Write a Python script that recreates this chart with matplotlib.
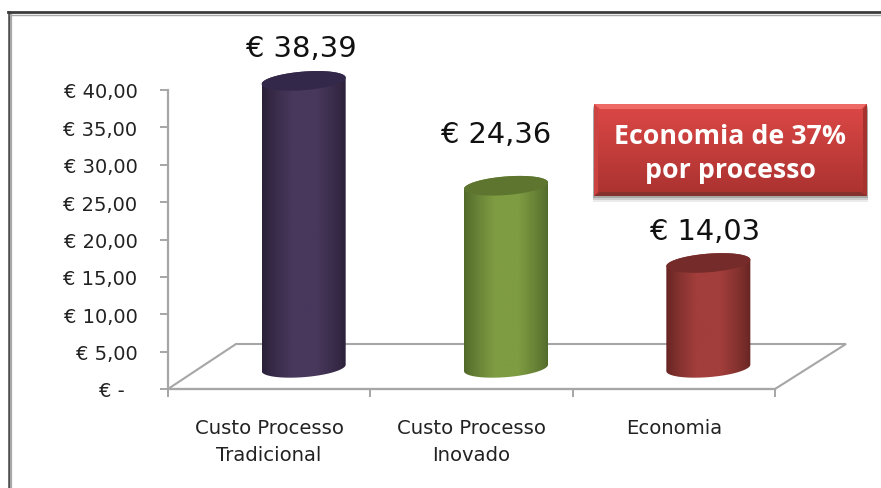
import numpy as np
import matplotlib
matplotlib.use('Agg')
import matplotlib.pyplot as plt
from matplotlib.patches import PathPatch, Polygon, Rectangle
from matplotlib.path import Path
from matplotlib.lines import Line2D

# Datos
categorias = ['Custo Processo\nTradicional', 'Custo Processo\nInovado', 'Economia']
valores = [38.39, 24.36, 14.03]
etiquetas_valor = ['€ 38,39', '€ 24,36', '€ 14,03']
ticks_y = [0, 5, 10, 15, 20, 25, 30, 35, 40]
etiquetas_y = ['€ -  ', '€ 5,00', '€ 10,00', '€ 15,00', '€ 20,00', '€ 25,00', '€ 30,00', '€ 35,00', '€ 40,00']

W, H = 881, 489
fig = plt.figure(figsize=(W / 100, H / 100), dpi=100)
plt.rcParams['font.family'] = ['DejaVu Sans']

# Ejes colocados en pixeles de la imagen
ax = fig.add_axes([168 / W, 1 - 390 / H, (775 - 168) / W, (390 - 91) / H])
ax.set_xlim(0, 3)
ax.set_ylim(0, 40)
ax.patch.set_visible(False)
for s in ['top', 'right']:
    ax.spines[s].set_visible(False)
for s in ['left', 'bottom']:
    ax.spines[s].set_color('#a6a6a6')
    ax.spines[s].set_linewidth(1.6)
ax.set_yticks(ticks_y)
ax.set_yticklabels(etiquetas_y, fontsize=14, color='#222222')
ax.set_xticks([0, 1, 2, 3])
ax.set_xticklabels([])
ax.tick_params(axis='y', length=6, width=1.4, color='#a6a6a6', pad=16)
ax.tick_params(axis='x', length=6, width=1.4, color='#a6a6a6')

for i, cat in enumerate(categorias):
    ax.annotate(cat, (i + 0.5, 0), xytext=(0, -21), textcoords='offset points', ha='center', va='top',
                fontsize=14.1, color='#222222', linespacing=1.52, annotation_clip=False)

# Suelo 3D
prof_x = 68 / 202.33
prof_x_der = 71 / 202.33
prof_y = 45 / 7.475
suelo = Polygon([(0, 0), (3, 0), (3 + prof_x_der, prof_y), (prof_x, prof_y)], closed=True,
                facecolor='white', edgecolor='#a6a6a6', linewidth=1.5, clip_on=False, zorder=1)
ax.add_patch(suelo)

# Cilindros
a = 42 / 202.33
b = 9.3 / 7.475
s = 3.2 / 7.475
dx = 34.5 / 202.33
base = prof_y * 0.47
colores = [('#2a2038', '#48385c', '#33284a'),
           ('#50682a', '#7e9c42', '#5e7530'),
           ('#662523', '#a23e3b', '#742b29')]
# desplazamiento de cada etiqueta respecto a la tapa, en puntos
despl_etiqueta = [(-2, 23.5), (-7, 37), (-2, 23)]
t = np.linspace(0, 2 * np.pi, 181)

for i, (v, lab, (borde, centro, tapa), off) in enumerate(zip(valores, etiquetas_valor, colores, despl_etiqueta)):
    cx = i + 0.5 + dx
    top = base + v
    # cuerpo: media elipse inferior y media elipse superior
    tt = np.linspace(np.pi, 2 * np.pi, 90)
    tt2 = np.linspace(0, np.pi, 90)
    x_inf = cx + a * np.cos(tt)
    y_inf = base + b * np.sin(tt) + s * np.cos(tt)
    x_sup = cx + a * np.cos(tt2)
    y_sup = top + b * np.sin(tt2) + s * np.cos(tt2)
    verts = np.column_stack([np.r_[x_inf, x_sup], np.r_[y_inf, y_sup]])
    cuerpo = PathPatch(Path(np.vstack([verts, verts[0]]), closed=True), facecolor='none', edgecolor='none',
                       transform=ax.transData, clip_on=False)
    ax.add_patch(cuerpo)
    c1 = np.array(matplotlib.colors.to_rgb(borde))
    c2 = np.array(matplotlib.colors.to_rgb(centro))
    u = np.linspace(-1, 1, 84)
    mezcla = np.clip((1 - np.abs(u)) / 0.72, 0, 1)[:, None] ** 0.8
    grad = (c1 * (1 - mezcla) + c2 * mezcla)[None, :, :]
    im = ax.imshow(grad, extent=[cx - a, cx + a, base - 2, top + 2], aspect='auto', zorder=3,
                   interpolation='bilinear')
    im.set_clip_box(fig.bbox)
    im.set_clip_path(cuerpo)
    ax.fill(cx + a * np.cos(t), top + b * np.sin(t) + s * np.cos(t), color=tapa, zorder=4, clip_on=False, lw=0)
    ax.annotate(lab, (cx, top), xytext=off, textcoords='offset points', ha='center', va='center',
                fontsize=20.8, color='#111111', zorder=5, annotation_clip=False)
ax.set_xlim(0, 3)
ax.set_ylim(0, 40)

# Marco de la imagen
for xs, ys, c, lw in [([8.5, 8.5], [13, 489], '#444444', 1.8), ([11, 11], [15, 489], '#a8a8a8', 1.6),
                      ([8, 881], [13.2, 13.2], '#3c3c3c', 2), ([10, 881], [15.6, 15.6], '#a8a8a8', 1)]:
    fig.add_artist(Line2D(np.array(xs) / W, 1 - np.array(ys) / H, color=c, lw=lw))

# Caja roja con degradado y biselado
cx0, cx1, cy0, cy1 = 594, 867, 105, 197
for k, alfa in [(6, 0.08), (4, 0.12), (2, 0.18)]:
    sombra = Rectangle(((cx0 - 1) / W, 1 - (cy1 + k) / H), (cx1 - cx0 + 2) / W, (cy1 - cy0) / H,
                       transform=fig.transFigure, facecolor='black', alpha=alfa, edgecolor='none', zorder=6)
    fig.add_artist(sombra)
ax_caja = fig.add_axes([cx0 / W, 1 - cy1 / H, (cx1 - cx0) / W, (cy1 - cy0) / H], zorder=7)
ax_caja.axis('off')
g = np.linspace(0, 1, 92)[:, None]
c_a = np.array(matplotlib.colors.to_rgb('#dc4846'))
c_b = np.array(matplotlib.colors.to_rgb('#aa3230'))
ax_caja.imshow((c_a * (1 - g) + c_b * g)[:, None, :], extent=[0, 273, 92, 0], aspect='auto')
ax_caja.fill([0, 273, 267, 6], [0, 0, 5, 5], color='#ee6a66', lw=0)
ax_caja.fill([0, 273, 267, 6], [92, 92, 88, 88], color='#86302e', lw=0)
ax_caja.fill([0, 4, 4, 0], [0, 5, 88, 92], color='#cc4442', lw=0)
ax_caja.fill([273, 269, 269, 273], [0, 5, 88, 92], color='#a63230', lw=0)
ax_caja.set_xlim(0, 273)
ax_caja.set_ylim(92, 0)
ax_caja.text(136.5, 49, 'Economia de 37%\npor processo', ha='center', va='center', color='white',
             fontsize=19.3, fontweight='bold', family='Open Sans', linespacing=1.42)

fig.savefig('out.png', dpi=100)
